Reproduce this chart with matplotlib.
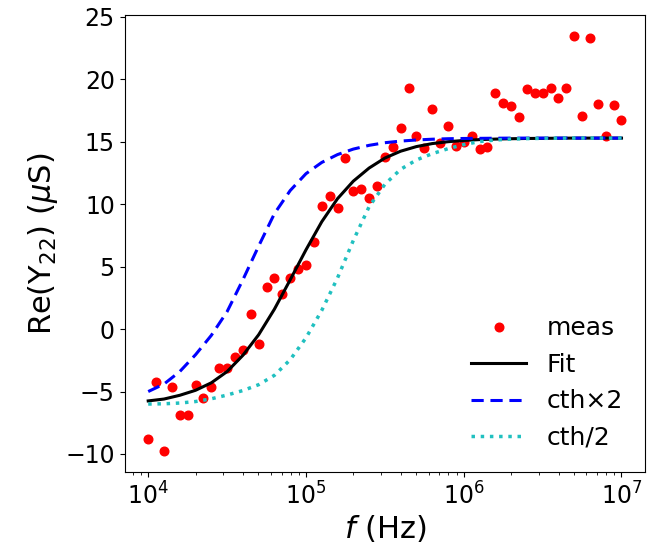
import numpy as np
import matplotlib
matplotlib.use("Agg")
import matplotlib.pyplot as plt

# measured points: 20 per decade from 1e4 to 1e7 (log10 f)
meas_logf = np.round(np.arange(4.0, 7.0001, 0.05), 2)
meas_re = [-8.8, -4.2, -9.8, -4.6, -6.9, -6.9, -4.45, -5.55, -4.65, -3.15,
           -3.1, -2.2, -1.65, 1.2, -1.2, 3.4, 4.1, 2.8, 4.1, 4.8,
           5.1, 7.0, 9.9, 10.7, 9.7, 13.7, 11.1, 11.2, 10.5, 11.5,
           13.8, 14.6, 16.1, 19.3, 15.5, 14.5, 17.6, 14.9, 16.3, 14.7,
           15.0, 15.5, 14.45, 14.55, 18.9, 18.1, 17.9, 17.0, 19.25, 18.95,
           18.95, 19.35, 18.5, 19.35, 23.5, 17.05, 23.35, 18.05, 15.45, 17.95,
           16.75]

# curves, every 0.1 decade
curve_logf = np.round(np.arange(4.0, 7.0001, 0.1), 1)
fit_re = [-5.75, -5.6, -5.3, -4.9, -4.3, -3.4, -2.1, -0.45, 1.6, 3.95,
          6.35, 8.6, 10.45, 11.85, 12.9, 13.7, 14.25, 14.62, 14.86, 15.01,
          15.11, 15.18, 15.22, 15.25, 15.27, 15.28, 15.29, 15.3, 15.3, 15.3, 15.3]
cth2_re = [-5.0, -4.4, -3.4, -2.05, -0.5, 1.4, 3.95, 6.65, 9.25, 11.1,
           12.45, 13.35, 13.98, 14.42, 14.72, 14.93, 15.06, 15.15, 15.21, 15.25,
           15.27, 15.28, 15.29, 15.3, 15.3, 15.3, 15.3, 15.3, 15.3, 15.3, 15.3]
cth_half_re = [-6.0, -5.98, -5.92, -5.8, -5.58, -5.28, -4.92, -4.45, -3.7, -2.45,
               -0.7, 1.5, 4.1, 7.1, 9.8, 11.6, 12.8, 13.55, 14.05, 14.45,
               14.78, 15.02, 15.15, 15.22, 15.26, 15.28, 15.29, 15.3, 15.3, 15.3, 15.3]

meas_f = 10.0 ** meas_logf
curve_f = 10.0 ** curve_logf

fig, ax = plt.subplots(figsize=(6.59, 5.53), dpi=100)

ax.plot(meas_f, meas_re, 'o', color='red', markersize=6.2, label='meas')
ax.plot(curve_f, fit_re, '-', color='black', lw=2.2, label='Fit')
ax.plot(curve_f, cth2_re, '--', color='blue', lw=2.2, dashes=(4, 2.2), label='cth×2')
ax.plot(curve_f, cth_half_re, ':', color='#20c0c0', lw=2.5, label='cth/2')

ax.set_xscale('log')
ax.set_yticks([-10, -5, 0, 5, 10, 15, 20, 25])
ax.tick_params(axis='both', labelsize=17)
ax.set_xlabel(r'$f$ (Hz)', fontsize=22, labelpad=3)
ax.set_ylabel(r'Re(Y$_{22}$) ($\mu$S)', fontsize=22)

ax.legend(loc='lower right', frameon=False, fontsize=18, handlelength=2.2)

plt.subplots_adjust(left=0.189, right=0.979, top=0.973, bottom=0.146)
plt.savefig("out.png", dpi=100)
